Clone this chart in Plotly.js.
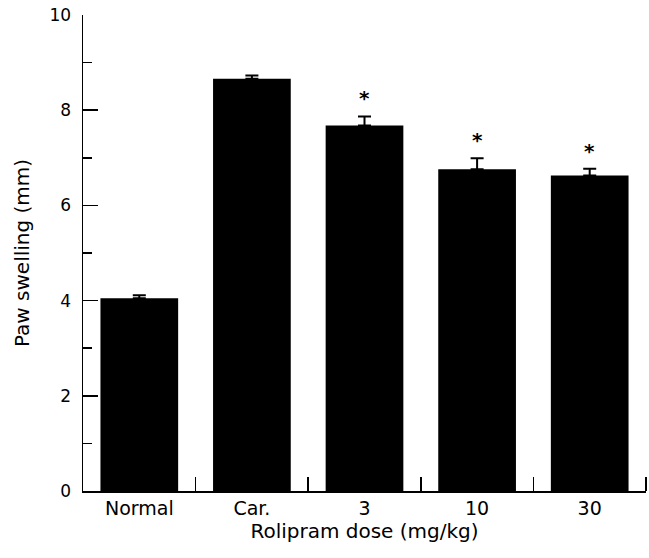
<!DOCTYPE html>
<html>
<head>
<meta charset="utf-8">
<script src="https://cdn.plot.ly/plotly-3.0.1.min.js"></script>
<style>html,body{margin:0;padding:0;background:#fff;}#chart{width:649px;height:558px;}</style>
</head>
<body>
<div id="chart"></div>
<script>
const categories = ["Normal", "Car.", "3", "10", "30"];
const meanValues = [4.05, 8.66, 7.68, 6.76, 6.63];
const semValues = [0.06, 0.07, 0.19, 0.23, 0.14];
const significance = ["", "", "*", "*", "*"];
const yTickValues = [0, 2, 4, 6, 8, 10];

const xIdx = categories.map((c, i) => i);
const FONT = "DejaVu Sans, Verdana, sans-serif";

const bars = {
  type: "bar",
  x: xIdx,
  y: meanValues,
  width: 0.69,
  marker: {color: "#000", line: {width: 0}},
  error_y: {
    type: "data",
    symmetric: false,
    array: semValues,
    arrayminus: semValues.map(() => 0),
    color: "#000",
    thickness: 2,
    width: 6.5
  },
  hoverinfo: "none"
};

const annotations = significance.map((s, i) => s ? {
  x: i, y: meanValues[i] + semValues[i],
  xref: "x", yref: "y",
  text: "<b>" + s + "</b>", showarrow: false,
  yanchor: "bottom", yshift: 4,
  font: {family: FONT, size: 20, color: "#000"}
} : null).filter(a => a);

const layout = {
  width: 649, height: 558,
  margin: {l: 83, r: 3, t: 15, b: 67},
  paper_bgcolor: "#fff", plot_bgcolor: "#fff",
  showlegend: false,
  xaxis: {
    type: "linear",
    range: [-0.5, 4.5],
    tickmode: "array",
    tickvals: xIdx,
    ticktext: categories,
    ticks: "",
    showline: true, linecolor: "#000", linewidth: 1.5,
    showgrid: false, zeroline: false,
    tickfont: {family: FONT, size: 19, color: "#000"},
    ticklabelstandoff: 0,
    minor: {
      tickmode: "array",
      tickvals: [0.5, 1.5, 2.5, 3.5, 4.5],
      ticks: "inside", ticklen: 14, tickwidth: 1.5, tickcolor: "#000",
      showgrid: false
    },
    title: {text: "Rolipram dose (mg/kg)", font: {family: FONT, size: 20, color: "#000"}, standoff: 5},
    fixedrange: true
  },
  yaxis: {
    range: [0, 10],
    tickmode: "array",
    tickvals: yTickValues,
    ticks: "inside", ticklen: 15, tickwidth: 1.5, tickcolor: "#000",
    showline: true, linecolor: "#000", linewidth: 1.5,
    showgrid: false, zeroline: false,
    tickfont: {family: FONT, size: 17, color: "#000"},
    ticklabelstandoff: 7,
    minor: {
      tickmode: "array",
      tickvals: [1, 3, 5, 7, 9],
      ticks: "inside", ticklen: 9, tickwidth: 1.5, tickcolor: "#000",
      showgrid: false
    },
    title: {text: "Paw swelling (mm)", font: {family: FONT, size: 20, color: "#000"}, standoff: 14},
    fixedrange: true
  },
  annotations: annotations
};

Plotly.newPlot("chart", [bars], layout, {displayModeBar: false, staticPlot: true});
</script>
</body>
</html>
